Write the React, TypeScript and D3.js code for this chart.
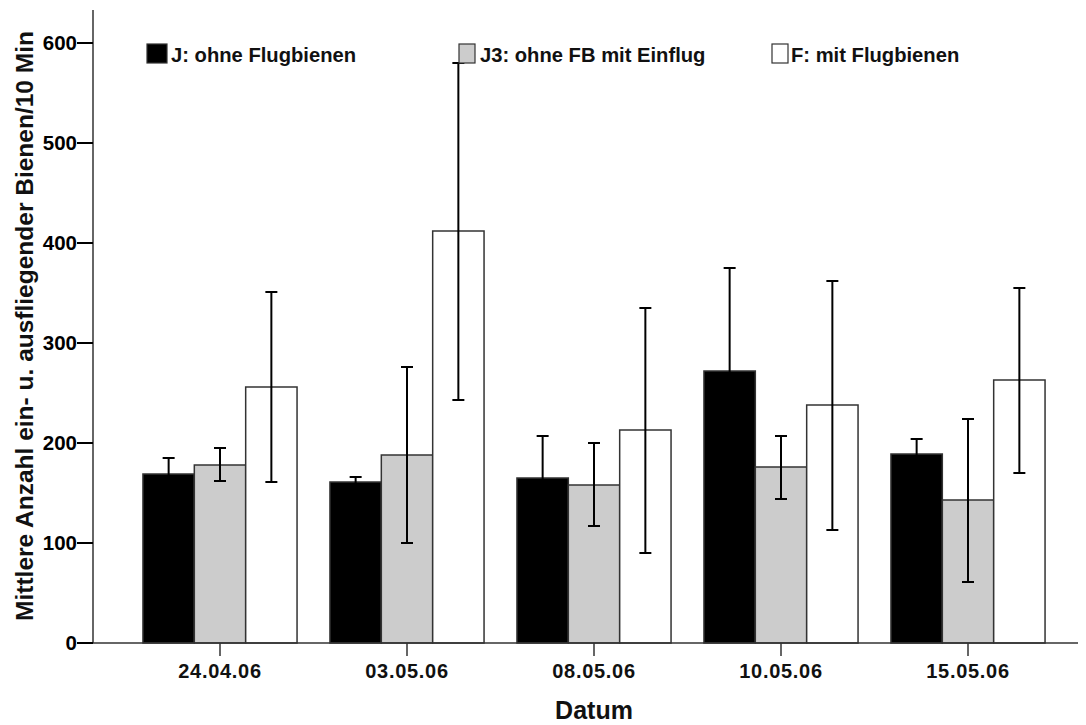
import React, { useEffect, useRef } from "react";
import * as d3 from "d3";

const dates = ["24.04.06", "03.05.06", "08.05.06", "10.05.06", "15.05.06"];
const seriesNames = ["J: ohne Flugbienen", "J3: ohne FB mit Einflug", "F: mit Flugbienen"];
const seriesColors = ["#000000", "#cccccc", "#ffffff"];

// means per series (same order as dates)
const meanJ = [169, 161, 165, 272, 189];
const meanJ3 = [178, 188, 158, 176, 143];
const meanF = [256, 412, 213, 238, 263];

// error bar lows / highs
const lowJ = [153, 156, 123, 169, 174];
const highJ = [185, 166, 207, 375, 204];
const lowJ3 = [162, 100, 117, 144, 61];
const highJ3 = [195, 276, 200, 207, 224];
const lowF = [161, 243, 90, 113, 170];
const highF = [351, 580, 335, 362, 355];

const yTicks = [0, 100, 200, 300, 400, 500, 600];

const App = () => {
  const ref = useRef<SVGSVGElement>(null);

  useEffect(() => {
    const width = 1086;
    const height = 725;
    const svg = d3.select(ref.current)
      .attr("width", width)
      .attr("height", height)
      .style("position", "absolute")
      .style("left", "0px")
      .style("top", "0px")
      .style("font-family", "'Liberation Sans', Arial, sans-serif")
      .style("font-weight", "bold");
    svg.selectAll("*").remove();

    const left = 93, right = 1078, bottom = 643;

    const y = d3.scaleLinear().domain([0, 600]).range([bottom, 43]);
    const x = d3.scaleBand().domain(dates).range([126.5, 1061.5]).paddingInner(0.176).paddingOuter(0.088);
    const xs = d3.scaleBand().domain(["0", "1", "2"]).range([0, x.bandwidth()]);

    const means = [meanJ, meanJ3, meanF];
    const lows = [lowJ, lowJ3, lowF];
    const highs = [highJ, highJ3, highF];

    const rows = dates.flatMap((d, i) => means.map((m, s) => ({
      date: d, s, mean: m[i], lo: lows[s][i], hi: highs[s][i]
    })));

    svg.append("g")
      .selectAll("rect")
      .data(rows)
      .join("rect")
        .attr("x", d => x(d.date)! + xs(String(d.s))!)
        .attr("y", d => y(d.mean))
        .attr("width", xs.bandwidth())
        .attr("height", d => y(0) - y(d.mean))
        .attr("fill", d => seriesColors[d.s])
        .attr("stroke", "#333")
        .attr("stroke-width", 1.5);

    // error bars
    const eb = svg.append("g")
      .attr("stroke", "#000")
      .attr("stroke-width", 2)
      .selectAll("g")
      .data(rows)
      .join("g")
        .attr("transform", d => `translate(${x(d.date)! + xs(String(d.s))! + xs.bandwidth() / 2},0)`);
    eb.append("line").attr("y1", d => y(d.lo)).attr("y2", d => y(d.hi));
    eb.append("line").attr("x1", -6).attr("x2", 6).attr("y1", d => y(d.hi)).attr("y2", d => y(d.hi));
    eb.append("line").attr("x1", -6).attr("x2", 6).attr("y1", d => y(d.lo)).attr("y2", d => y(d.lo));

    // axes
    svg.append("line")
      .attr("x1", left).attr("x2", left).attr("y1", 10).attr("y2", bottom)
      .attr("stroke", "#333").attr("stroke-width", 1.5);
    svg.append("line")
      .attr("x1", left).attr("x2", right).attr("y1", bottom).attr("y2", bottom)
      .attr("stroke", "#333").attr("stroke-width", 1.5);

    const yt = svg.append("g").selectAll("g").data(yTicks).join("g")
      .attr("transform", d => `translate(0,${y(d)})`);
    yt.append("line").attr("x1", left - 16).attr("x2", left).attr("stroke", "#000").attr("stroke-width", 2);
    yt.append("text")
      .attr("x", left - 16).attr("dy", "0.36em")
      .attr("text-anchor", "end")
      .attr("font-size", 20.5)
      .text(d => d);

    const xt = svg.append("g").selectAll("g").data(dates).join("g")
      .attr("transform", d => `translate(${x(d)! + x.bandwidth() / 2},0)`);
    xt.append("line").attr("y1", bottom).attr("y2", bottom + 13).attr("stroke", "#333").attr("stroke-width", 1.5);
    xt.append("text")
      .attr("y", 678).attr("text-anchor", "middle")
      .attr("font-size", 20)
      .attr("letter-spacing", 0.7)
      .attr("fill", "#111")
      .text(d => d);

    svg.append("text")
      .attr("x", 594).attr("y", 719)
      .attr("text-anchor", "middle")
      .attr("font-size", 25)
      .attr("fill", "#111")
      .text("Datum");

    svg.append("text")
      .attr("transform", `translate(33,326) rotate(-90)`)
      .attr("text-anchor", "middle")
      .attr("font-size", 24.5)
      .attr("fill", "#111")
      .text("Mittlere Anzahl ein- u. ausfliegender Bienen/10 Min");

    // legend
    const legendX = [147, 459, 772];
    const legendTextX = [171, 480, 791];
    const lg = svg.append("g").selectAll("g").data(seriesNames).join("g");
    lg.append("rect")
      .attr("x", (d, i) => legendX[i]).attr("y", 44)
      .attr("width", (d, i) => (i === 0 ? 20 : 16)).attr("height", 19)
      .attr("fill", (d, i) => seriesColors[i])
      .attr("stroke", "#333").attr("stroke-width", 1.2);
    lg.append("text")
      .attr("x", (d, i) => legendTextX[i]).attr("y", 62)
      .attr("font-size", 20.2)
      .attr("fill", "#111")
      .text(d => d);
  }, []);

  return <svg ref={ref}></svg>;
};

export default App;
